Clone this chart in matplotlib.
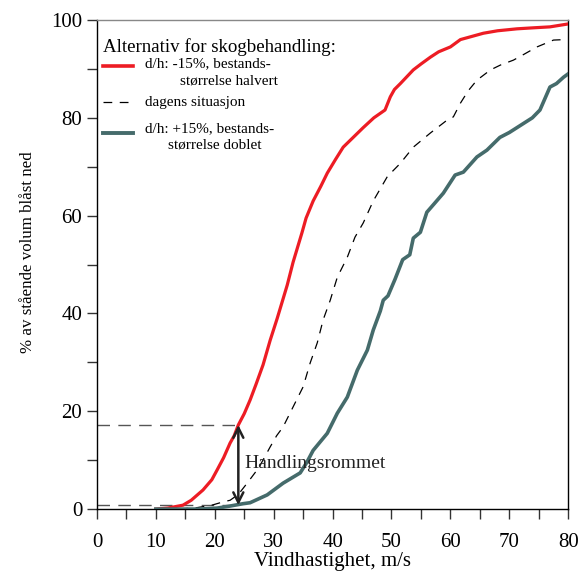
import matplotlib
matplotlib.use("Agg")
import matplotlib.pyplot as plt
from matplotlib.lines import Line2D

plt.rcParams['font.family'] = ['Liberation Serif', 'DejaVu Serif']

# Data
red_x = [10, 12, 14.6, 16, 18, 19.5, 20.4, 21.5, 22.6, 23.3, 24, 25, 26, 27, 28.2, 29.4, 30.6, 31.6, 32.3,
         33.3, 34.8, 35.5, 36.7, 38, 39.1, 40.5, 41.8, 43.5, 45.2, 47, 48.9, 49.8, 50.5, 51.5, 53.7, 55, 56.6,
         58, 60, 61.7, 63.5, 65.6, 68, 71.3, 74, 76.9, 80]
red_y = [0, 0.2, 0.8, 1.8, 3.9, 6, 8, 10.5, 13.5, 15, 17.2, 19.5, 22.3, 25.5, 29.5, 34.5, 39, 43, 45.8,
         50.5, 56.5, 59.5, 63, 66, 68.7, 71.5, 74, 76, 78, 80, 81.6, 84.3, 85.8, 87, 89.8, 91, 92.4,
         93.5, 94.5, 96, 96.6, 97.3, 97.8, 98.2, 98.4, 98.6, 99.2]

dash_x = [14, 17, 19.5, 21.5, 22.6, 24, 25.5, 27.5, 29.4, 30.5, 31.6, 33.3, 35, 36.2, 37.4, 38.4, 39.6, 40.8,
          42.5, 43.8, 45.2, 46.9, 49.3, 51.5, 53.7, 56.6, 59.4, 60.5, 61.7, 63, 64.5, 66.8, 68.5, 70.7, 72.5,
          74.7, 77.5, 79.5]
dash_y = [0, 0.3, 0.8, 1.5, 1.8, 3, 5.3, 8.5, 12.7, 15, 16.8, 20.9, 25, 29.9, 34, 38.7, 42.7, 47.4,
          51.5, 55.6, 58.5, 63, 68, 70.7, 74, 76.9, 79.5, 80.2, 83, 85.5, 87.7, 89.8, 90.8, 91.8, 93,
          94.5, 95.9, 96]

teal_x = [10, 14, 17.5, 20.4, 22.5, 24.8, 26, 28.9, 31.6, 34.5, 35.6, 36.7, 39.1, 40.8, 42.5, 44.2, 45.9,
          46.9, 48.1, 48.6, 49.4, 50.6, 51.9, 53.1, 53.7, 54.9, 56, 57.3, 58.8, 60.8, 62.2, 64.5,
          66.2, 68.4, 70, 71.3, 73.9, 75.2, 76.9, 78, 79.2, 80]
teal_y = [0, 0, 0, 0.2, 0.6, 1.1, 1.3, 2.9, 5.3, 7.4, 9.5, 12, 15.5, 19.6, 22.9, 28.4, 32.5,
          36.6, 40.5, 42.7, 43.6, 47, 51, 52, 55.4, 56.6, 60.7, 62.5, 64.6, 68.3, 68.9, 72,
          73.4, 76, 77, 78, 80, 81.6, 86.3, 87, 88.3, 89]

x_ref = 24
y_low = 0.8
y_high = 17.2

xticks = [0, 10, 20, 30, 40, 50, 60, 70, 80]
yticks = [0, 20, 40, 60, 80, 100]

RED = '#ED1C24'
TEAL = '#456B6B'

fig = plt.figure(figsize=(5.84, 5.72), dpi=100)
ax = fig.add_axes([0.166, 0.110, 0.807, 0.855])

ax.plot(red_x, red_y, color=RED, lw=2.3, zorder=3)
ax.plot(dash_x, dash_y, color='black', lw=0.9, dashes=(7, 6), zorder=3)
ax.plot(teal_x, teal_y, color=TEAL, lw=2.6, zorder=3)

# annotation lines
ax.plot([0, x_ref], [y_high, y_high], color='#555555', lw=1.0, dashes=(9, 6), zorder=2)
ax.plot([0, x_ref], [y_low, y_low], color='#555555', lw=1.0, dashes=(9, 6), zorder=2)
ax.annotate('', xy=(x_ref, y_high), xytext=(x_ref, y_low),
            arrowprops=dict(arrowstyle='<->', color='#222222', lw=1.8, mutation_scale=18,
                            shrinkA=0, shrinkB=0), zorder=4)
ax.text(25.1, 9.3, 'Handlingsrommet', fontsize=14, va='center', ha='left', color='#222222')

ax.set_xlim(0, 80)
ax.set_ylim(0, 100)
ax.set_xticks(xticks)
ax.set_xticks(range(0, 81, 5), minor=True)
ax.set_yticks(yticks)
ax.set_yticks(range(0, 101, 10), minor=True)
ax.tick_params(which='both', direction='out', length=7, width=1, color='#333333', labelsize=15)
ax.tick_params(axis='x', pad=10)
for sp in ax.spines.values():
    sp.set_linewidth(1.0)
ax.spines['top'].set_color('#888888')

ax.set_xlabel('Vindhastighet, m/s', fontsize=15, labelpad=0)
ax.set_ylabel('% av stående volum blåst ned', fontsize=12.2)
ax.yaxis.set_label_coords(-0.129, 0.526)

# legend (manual)
ax.text(0.013, 0.945, 'Alternativ for skogbehandling:', transform=ax.transAxes, fontsize=13.6,
        va='center', ha='left')
legend_lines = [(0.907, RED, 2.6, None), (0.832, 'black', 0.9, (7, 6)), (0.770, TEAL, 2.8, None)]
for yy, c, lw, ds in legend_lines:
    ln = Line2D([0.013, 0.077], [yy, yy], transform=ax.transAxes, color=c, lw=lw)
    if ds:
        ln.set_dashes(ds)
    ax.add_line(ln)
ax.text(0.102, 0.911, 'd/h: -15%, bestands-', transform=ax.transAxes, fontsize=11, va='center')
ax.text(0.176, 0.876, 'størrelse halvert', transform=ax.transAxes, fontsize=11, va='center')
ax.text(0.102, 0.832, 'dagens situasjon', transform=ax.transAxes, fontsize=11, va='center')
ax.text(0.102, 0.778, 'd/h: +15%, bestands-', transform=ax.transAxes, fontsize=11, va='center')
ax.text(0.150, 0.744, 'størrelse doblet', transform=ax.transAxes, fontsize=11, va='center')

fig.savefig('out.png', dpi=100)
